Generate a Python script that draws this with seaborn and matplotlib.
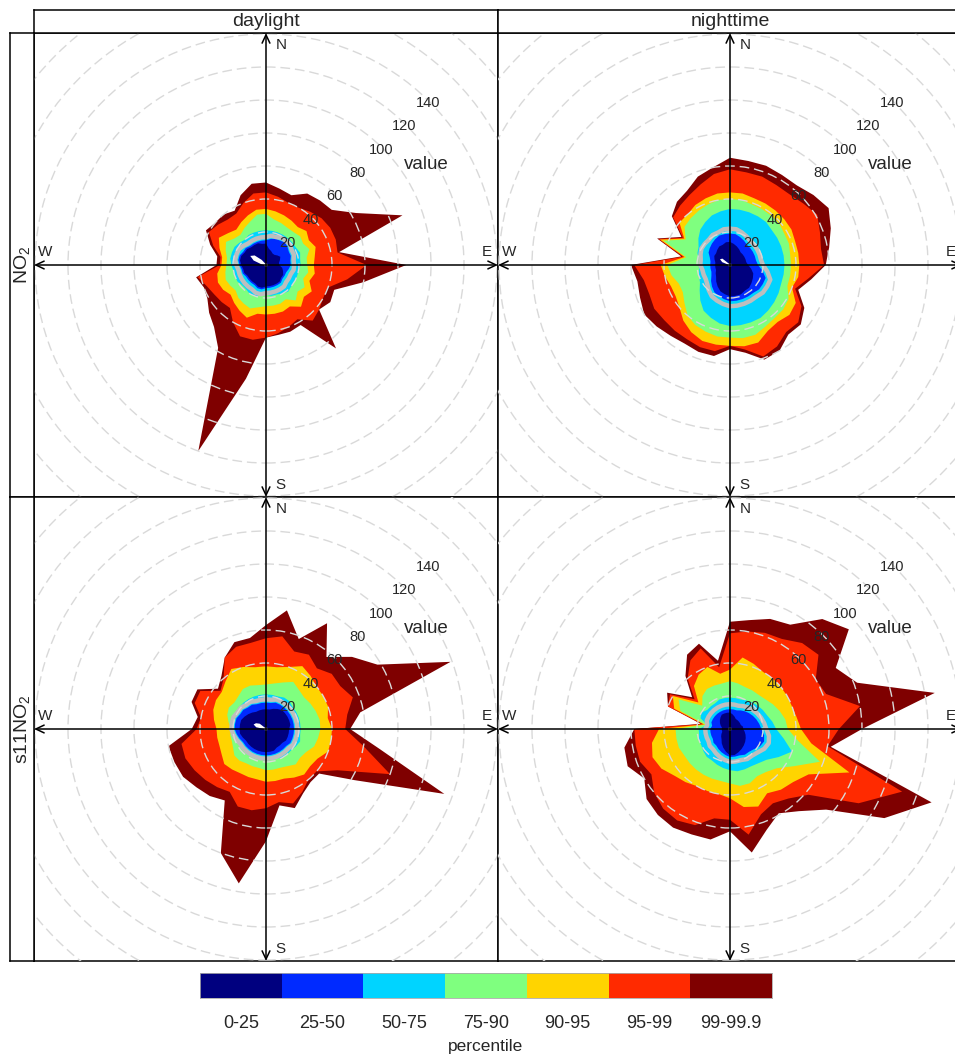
#!/usr/bin/env python
''' Percentile roses of NO2 and s11NO2 by wind direction, daylight vs nighttime.
'''
import numpy as np
import pandas as pd
import seaborn as sns
import matplotlib.pyplot as plt
from matplotlib.colors import ListedColormap
from matplotlib.patches import Circle

# wind direction of every value below (degrees clockwise from north)
wd = list(range(0, 360, 10))

pct_labels = ['0-25', '25-50', '50-75', '75-90', '90-95', '95-99', '99-99.9']
pct_colours = ['#00007F', '#002AFF', '#00D4FF', '#7FFF7F', '#FFD400', '#FF2A00', '#7F0000']
mean_colour = '#bebebe'
grid_rings = [20, 40, 60, 80, 100, 120, 140, 160, 180, 200]
ring_labels = [20, 40, 60, 80, 100, 120, 140]
columns = ['daylight', 'nighttime']
rows = ['$\\mathregular{NO_2}$', '$\\mathregular{s11NO_2}$']

# NO2, daylight
day_no2_p0 = [1, 1, 1, 1, 1, 1, 1, 1, 1, 1, 1, 1, 1, 1, 1, 1, 1, 1, 1, 1, 1, 1, 1, 1, 1, 1, 1, 1, 3, 8, 11, 9, 4, 1, 1, 1]
day_no2_p25 = [13, 10, 9, 8, 8, 9, 10, 9, 8, 8, 10, 11, 12, 12, 13, 13, 13, 13, 13, 14, 14, 13, 13, 13, 13, 14, 14, 15, 16, 16, 15, 15, 14, 14, 14, 13]
day_no2_p50 = [15, 16, 17, 17, 18, 17, 16, 16, 15, 15, 14, 13, 13, 13, 14, 14, 14, 14, 14, 15, 15, 14, 14, 14, 14, 15, 15, 16, 17, 17, 16, 16, 15, 15, 15, 15]
day_no2_p75 = [21, 21, 21, 21, 21, 21, 21, 22, 21, 21, 20, 20, 20, 20, 21, 20, 19, 19, 18, 19, 20, 20, 19, 19, 20, 20, 20, 21, 22, 22, 22, 21, 20, 21, 21, 21]
day_no2_p90 = [31, 28, 27, 26, 26, 27, 26, 28, 25, 25, 26, 24, 27, 25, 28, 24, 25, 25, 25, 26, 28, 27, 26, 24, 25, 26, 25, 24, 24, 26, 28, 25, 24, 26, 28, 31]
day_no2_p95 = [34, 33, 32, 31, 30, 32, 30, 32, 30, 29, 30, 28, 32, 30, 33, 29, 30, 30, 30, 30, 34, 32, 30, 28, 30, 31, 30, 27, 27, 30, 33, 30, 28, 30, 32, 34]
day_no2_p99 = [44, 42, 40, 40, 42, 44, 45, 45, 44, 61, 50, 40, 40, 42, 44, 38, 40, 42, 44, 46, 46, 40, 34, 35, 36, 38, 42, 28, 28, 34, 40, 38, 36, 36, 40, 44]
day_no2_p999 = [50, 47, 45, 50, 51, 52, 63, 88, 45, 85, 60, 44, 45, 42, 66, 42, 43, 43, 44, 70, 120, 58, 49, 45, 41, 40, 43, 30, 30, 36, 42, 40, 40, 38, 45, 50]
day_no2_mean = [17, 18, 18, 19, 19, 19, 18, 18, 17, 17, 17, 16, 16, 16, 17, 17, 17, 17, 17, 18, 18, 17, 17, 17, 17, 17, 17, 18, 19, 19, 19, 18, 17, 17, 17, 17]

# NO2, nighttime
night_no2_p0 = [1, 1, 1, 1, 1, 1, 1, 1, 1, 1, 1, 1, 1, 1, 1, 1, 1, 1, 1, 1, 1, 1, 1, 1, 1, 1, 1, 1, 1, 5, 7, 6, 1, 1, 1, 1]
night_no2_p25 = [14, 13, 12, 11, 10, 10, 10, 10, 10, 11, 13, 15, 16, 17, 18, 18, 19, 19, 19, 18, 17, 15, 13, 11, 10, 9, 9, 9, 9, 10, 11, 11, 12, 13, 13, 14]
night_no2_p50 = [19, 19, 18, 17, 16, 16, 16, 16, 16, 17, 20, 23, 23, 23, 22, 22, 22, 22, 22, 21, 20, 19, 17, 15, 13, 12, 12, 12, 12, 13, 15, 16, 17, 18, 19, 19]
night_no2_p75 = [34, 34, 34, 34, 34, 33, 33, 33, 33, 33, 33, 33, 34, 35, 36, 37, 37, 37, 37, 36, 34, 32, 28, 24, 21, 20, 19, 19, 19, 21, 22, 25, 28, 30, 32, 33]
night_no2_p90 = [40, 40, 39, 39, 39, 39, 38, 38, 37, 37, 37, 37, 41, 42, 42, 43, 45, 45, 44, 44, 43, 42, 40, 36, 33, 33, 36, 38, 27, 43, 31, 36, 37, 38, 39, 40]
night_no2_p95 = [44, 44, 43, 43, 43, 43, 43, 42, 42, 42, 42, 40, 46, 47, 45, 46, 50, 50, 49, 49, 49, 47, 44, 40, 38, 38, 40, 42, 28, 45, 32, 40, 40, 42, 43, 44]
night_no2_p99 = [58, 57, 57, 56, 56, 58, 61, 58, 56, 57, 48, 42, 50, 54, 53, 57, 59, 52, 49, 53, 53, 52, 52, 52, 53, 52, 53, 58, 29, 46, 33, 45, 47, 49, 52, 56]
night_no2_p999 = [65, 64, 64, 63, 63, 66, 69, 65, 61, 58, 50, 44, 52, 56, 55, 60, 61, 54, 51, 56, 56, 55, 56, 58, 60, 58, 57, 60, 30, 47, 34, 46, 50, 52, 57, 60]
night_no2_mean = [22, 22, 21, 20, 19, 19, 19, 19, 19, 20, 23, 26, 26, 26, 25, 25, 25, 25, 25, 24, 23, 22, 20, 18, 17, 17, 17, 18, 18, 19, 20, 20, 20, 21, 21, 22]

# s11NO2, daylight
day_s11_p0 = [1, 1, 1, 1, 1, 1, 1, 1, 1, 1, 1, 1, 1, 1, 1, 1, 1, 1, 1, 1, 1, 1, 1, 1, 1, 1, 1, 1, 6, 8, 7, 5, 1, 1, 1, 1]
day_s11_p25 = [12, 12, 13, 14, 15, 15, 15, 15, 15, 14, 14, 14, 14, 13, 13, 13, 14, 14, 14, 14, 14, 14, 14, 14, 14, 15, 16, 16, 16, 16, 15, 14, 13, 12, 12, 12]
day_s11_p50 = [16, 16, 17, 17, 17, 17, 17, 17, 17, 17, 17, 17, 17, 16, 16, 16, 16, 16, 16, 16, 16, 16, 16, 16, 16, 17, 18, 19, 19, 19, 18, 18, 17, 17, 16, 16]
day_s11_p75 = [21, 21, 21, 22, 22, 21, 21, 21, 21, 21, 21, 22, 21, 20, 20, 20, 19, 19, 19, 19, 19, 19, 19, 19, 19, 19, 19, 20, 20, 21, 21, 21, 21, 21, 21, 21]
day_s11_p90 = [27, 28, 30, 33, 31, 30, 31, 32, 33, 33, 32, 31, 28, 27, 28, 26, 25, 25, 25, 24, 24, 24, 25, 25, 23, 22, 22, 21, 23, 25, 26, 25, 26, 28, 28, 27]
day_s11_p95 = [38, 38, 40, 44, 42, 40, 40, 40, 38, 40, 40, 40, 36, 35, 36, 34, 32, 32, 32, 31, 31, 31, 32, 33, 31, 30, 30, 30, 32, 34, 35, 35, 38, 42, 40, 38]
day_s11_p99 = [55, 57, 50, 52, 48, 52, 52, 56, 50, 48, 60, 80, 50, 40, 40, 44, 48, 45, 48, 50, 50, 44, 46, 48, 50, 52, 52, 42, 40, 46, 46, 36, 40, 50, 53, 53]
day_s11_p999 = [63, 73, 58, 74, 57, 68, 78, 119, 58, 51, 70, 115, 62, 42, 42, 45, 51, 47, 68, 95, 80, 50, 53, 55, 58, 59, 60, 45, 42, 48, 48, 38, 42, 50, 56, 56]
day_s11_mean = [18, 18, 19, 19, 19, 19, 19, 19, 19, 19, 19, 19, 19, 18, 18, 18, 18, 18, 18, 18, 18, 18, 18, 18, 18, 19, 20, 21, 21, 21, 20, 20, 19, 19, 18, 18]

# s11NO2, nighttime
night_s11_p0 = [1, 1, 1, 1, 1, 1, 1, 1, 1, 1, 1, 1, 1, 1, 1, 1, 1, 1, 1, 1, 1, 1, 1, 1, 1, 1, 1, 1, 1, 1, 1, 1, 1, 1, 1, 1]
night_s11_p25 = [10, 9, 8, 7, 7, 7, 7, 7, 8, 8, 9, 10, 11, 12, 13, 14, 15, 16, 16, 14, 12, 10, 8, 7, 6, 5, 5, 5, 5, 6, 7, 8, 9, 10, 10, 10]
night_s11_p50 = [12, 12, 12, 13, 14, 15, 16, 17, 18, 19, 21, 22, 21, 19, 18, 18, 17, 17, 17, 16, 15, 14, 13, 13, 12, 12, 12, 12, 11, 12, 12, 12, 12, 12, 12, 12]
night_s11_p75 = [19, 19, 19, 20, 21, 22, 23, 24, 26, 28, 33, 40, 34, 29, 27, 26, 26, 26, 25, 24, 23, 22, 22, 21, 20, 20, 19, 19, 14, 19, 20, 18, 18, 18, 19, 19]
night_s11_p90 = [29, 28, 27, 27, 27, 28, 30, 32, 34, 35, 42, 58, 45, 37, 34, 33, 35, 35, 33, 32, 32, 32, 32, 32, 32, 33, 33, 33, 15, 32, 36, 22, 26, 28, 28, 28]
night_s11_p95 = [36, 44, 42, 40, 40, 40, 40, 40, 41, 43, 50, 77, 55, 50, 48, 45, 50, 48, 42, 40, 40, 40, 42, 44, 48, 50, 48, 43, 16, 36, 40, 25, 34, 38, 40, 34]
night_s11_p99 = [58, 60, 62, 63, 68, 70, 60, 62, 80, 66, 60, 111, 90, 62, 55, 52, 55, 65, 55, 55, 62, 64, 63, 60, 55, 58, 58, 58, 17, 40, 42, 28, 40, 48, 52, 38]
night_s11_p999 = [65, 67, 71, 73, 87, 94, 74, 82, 126, 80, 62, 130, 108, 76, 65, 59, 65, 76, 62, 68, 68, 69, 68, 66, 60, 66, 65, 58, 18, 40, 44, 30, 42, 52, 55, 42]
night_s11_mean = [15, 15, 15, 16, 17, 18, 19, 20, 21, 22, 24, 25, 24, 22, 21, 21, 20, 20, 20, 19, 18, 17, 16, 16, 15, 15, 15, 15, 14, 15, 15, 15, 15, 15, 15, 15]

# Canvas size and the half-width of a panel in data units.
W, H = 955, 1055
UPPER = 140.6


def px_box(x0, y0, x1, y1):
    ''' Turn a pixel box (top-left origin) into figure coordinates.
    '''
    return [x0 / W, 1 - y1 / H, (x1 - x0) / W, (y1 - y0) / H]


def to_xy(radius):
    ''' Closed outline of a rose from radii at the wd directions.
    '''
    theta = np.radians(wd + [wd[0]])
    r = np.asarray(list(radius) + [radius[0]], dtype=float)
    return r * np.sin(theta), r * np.cos(theta)


def draw_rose(ax, levels, mean):
    ''' Fill the percentile bands (outermost first), the mean line, and the
    compass grid.
    '''
    # levels: p0, p25, p50, p75, p90, p95, p99, p99.9
    fills = ['white'] + pct_colours
    for radius, col in reversed(list(zip(levels, fills))):
        x, y = to_xy(radius)
        ax.fill(x, y, color=col, lw=0, zorder=1)

    mx, my = to_xy(mean)
    mean_df = pd.DataFrame({'x': mx, 'y': my})
    sns.lineplot(data=mean_df, x='x', y='y', sort=False, estimator=None,
                 color=mean_colour, lw=3.2, ax=ax, zorder=2)

    for r in grid_rings:
        ax.add_patch(Circle((0, 0), r, fill=False, ec='#d9d9d9', lw=1,
                            ls=(0, (7, 3.5)), zorder=3))

    arrow = dict(arrowstyle='<->,head_length=0.6,head_width=0.28',
                 lw=1.1, color='black', shrinkA=0, shrinkB=0)
    ax.annotate('', xy=(UPPER, 0), xytext=(-UPPER, 0), arrowprops=arrow,
                zorder=4)
    ax.annotate('', xy=(0, UPPER), xytext=(0, -UPPER), arrowprops=arrow,
                zorder=4)

    edge = 0.95 * UPPER
    ax.annotate('N', (0, edge), xytext=(7, 0), textcoords='offset points',
                ha='left', va='center', fontsize=11)
    ax.annotate('S', (0, -edge), xytext=(7, 0), textcoords='offset points',
                ha='left', va='center', fontsize=11)
    ax.annotate('E', (edge, 0), xytext=(0, 4), textcoords='offset points',
                ha='center', va='bottom', fontsize=11)
    ax.annotate('W', (-edge, 0), xytext=(0, 4), textcoords='offset points',
                ha='center', va='bottom', fontsize=11)

    for v in ring_labels:
        d = (v - 1.2) * np.sqrt(0.5)
        ax.text(d, d, str(v), ha='center', va='center', fontsize=10.5, zorder=5)
    ax.text(97, 61, 'value', ha='center', va='center', fontsize=13.5, zorder=5)

    ax.set_xlim(-UPPER, UPPER)
    ax.set_ylim(-UPPER, UPPER)
    ax.set_xticks([])
    ax.set_yticks([])
    ax.set_xlabel('')
    ax.set_ylabel('')
    for s in ax.spines.values():
        s.set_color('black')
        s.set_linewidth(1.1)


def strip(fig, box, label, rotation=0):
    ''' A lattice style strip: a framed box with a centred label.
    '''
    ax = fig.add_axes(px_box(*box))
    ax.set_xticks([])
    ax.set_yticks([])
    ax.set_facecolor('white')
    for s in ax.spines.values():
        s.set_color('black')
        s.set_linewidth(1.1)
    ax.text(0.5, 0.5, label, transform=ax.transAxes, ha='center',
            va='center', rotation=rotation, fontsize=14)


def main():
    sns.set_style('white')
    plt.rcParams['font.family'] = ['Liberation Sans', 'DejaVu Sans']

    panels = {
        (0, 0): ([day_no2_p0, day_no2_p25, day_no2_p50, day_no2_p75, day_no2_p90,
                  day_no2_p95, day_no2_p99, day_no2_p999], day_no2_mean),
        (0, 1): ([night_no2_p0, night_no2_p25, night_no2_p50, night_no2_p75,
                  night_no2_p90, night_no2_p95, night_no2_p99, night_no2_p999],
                 night_no2_mean),
        (1, 0): ([day_s11_p0, day_s11_p25, day_s11_p50, day_s11_p75, day_s11_p90,
                  day_s11_p95, day_s11_p99, day_s11_p999], day_s11_mean),
        (1, 1): ([night_s11_p0, night_s11_p25, night_s11_p50, night_s11_p75,
                  night_s11_p90, night_s11_p95, night_s11_p99, night_s11_p999],
                 night_s11_mean),
    }

    fig = plt.figure(figsize=(W / 100, H / 100), dpi=100)

    size = 464
    x_left, y_top = 34, 33
    for (i, j), (levels, mean) in panels.items():
        x0 = x_left + j * size
        y0 = y_top + i * size
        ax = fig.add_axes(px_box(x0, y0, x0 + size, y0 + size))
        draw_rose(ax, levels, mean)

    for j, name in enumerate(columns):
        x0 = x_left + j * size
        strip(fig, (x0, 10, x0 + size, y_top), name)
    for i, name in enumerate(rows):
        y0 = y_top + i * size
        strip(fig, (10, y0, x_left, y0 + size), name, rotation=90)

    # Percentile key along the bottom.
    cax = fig.add_axes(px_box(200, 973, 772, 998))
    sns.heatmap(np.arange(len(pct_labels))[None, :], cmap=ListedColormap(pct_colours),
                cbar=False, xticklabels=pct_labels, yticklabels=False, ax=cax)
    plt.setp(cax.get_xticklabels(), rotation=0)
    cax.tick_params(axis='x', length=0, pad=12, labelsize=13)
    cax.set_xlabel('percentile', fontsize=12.5, labelpad=5)
    for s in cax.spines.values():
        s.set_visible(True)
        s.set_color('#aaaaaa')
        s.set_linewidth(0.6)

    fig.savefig('out.png', dpi=100)


if __name__ == '__main__':
    main()
